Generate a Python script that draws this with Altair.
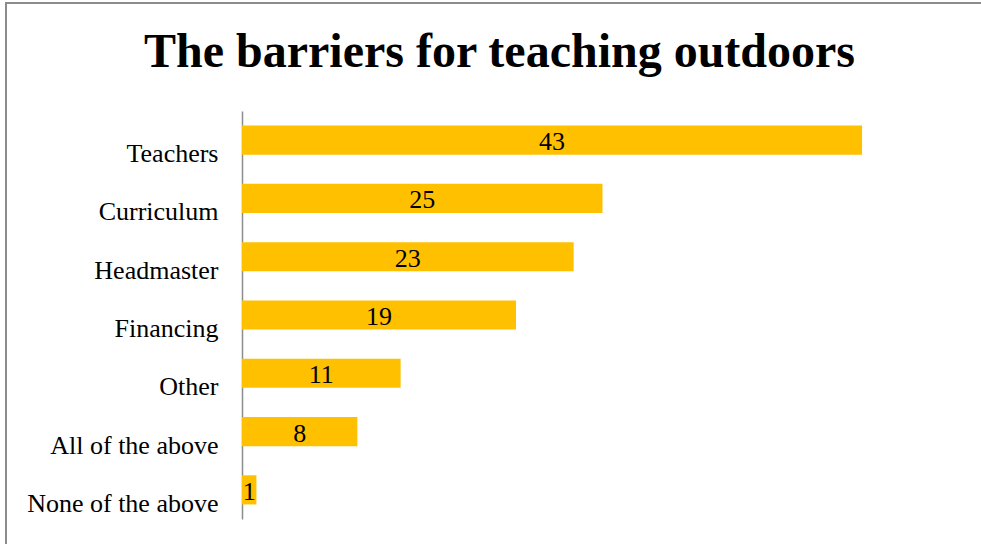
import altair as alt
import pandas as pd

categories = ["Teachers", "Curriculum", "Headmaster", "Financing", "Other",
              "All of the above", "None of the above"]
counts = [43, 25, 23, 19, 11, 8, 1]

df = pd.DataFrame({"category": categories, "count": counts})

FONT = "Liberation Serif"
GOLD = "#FFC000"
BORDER = "#8C8C8C"

base = alt.Chart(df)

bars = base.mark_bar(color=GOLD).encode(
    y=alt.Y("category:N", sort=categories,
            scale=alt.Scale(paddingInner=0.5, paddingOuter=0.25),
            axis=alt.Axis(title=None, ticks=False, grid=False,
                          labelFont=FONT, labelFontSize=26, labelColor="black",
                          labelPadding=24, labelBaseline="alphabetic",
                          labelOffset=22, labelLimit=400,
                          domainColor=BORDER, domainWidth=1.5)),
    x=alt.X("count:Q", scale=alt.Scale(domain=[0, 50], nice=False), axis=None),
)

labels = base.transform_calculate(mid="datum.count / 2").mark_text(
    font=FONT, fontSize=26, color="black", baseline="alphabetic", dy=10, align="center"
).encode(
    y=alt.Y("category:N", sort=categories),
    x=alt.X("mid:Q"),
    text=alt.Text("count:Q"),
)

frame_data = alt.Data(values=[{"k": 1}])
top_rule = alt.Chart(frame_data).mark_rule(color=BORDER, strokeWidth=2).encode(
    x=alt.value(-237), x2=alt.value(760), y=alt.value(-108)
)
left_rule = alt.Chart(frame_data).mark_rule(color=BORDER, strokeWidth=2).encode(
    x=alt.value(-236), y=alt.value(-109), y2=alt.value(460)
)

chart = alt.layer(bars, labels, top_rule, left_rule).properties(
    width=721,
    height=408,
    autosize=alt.AutoSizeParams(type="none"),
    padding={"left": 242, "top": 111, "right": 18, "bottom": 25},
    title=alt.TitleParams(
        "The barriers for teaching outdoors",
        font=FONT, fontSize=48, fontWeight="bold", color="black",
        anchor="middle", frame="group", dx=-103, baseline="alphabetic", offset=-114,
    ),
).configure(
    background="white",
    view=alt.ViewConfig(strokeWidth=0, stroke="transparent"),
)

chart.save("out.html", embed_options={"renderer": "svg", "actions": False})
